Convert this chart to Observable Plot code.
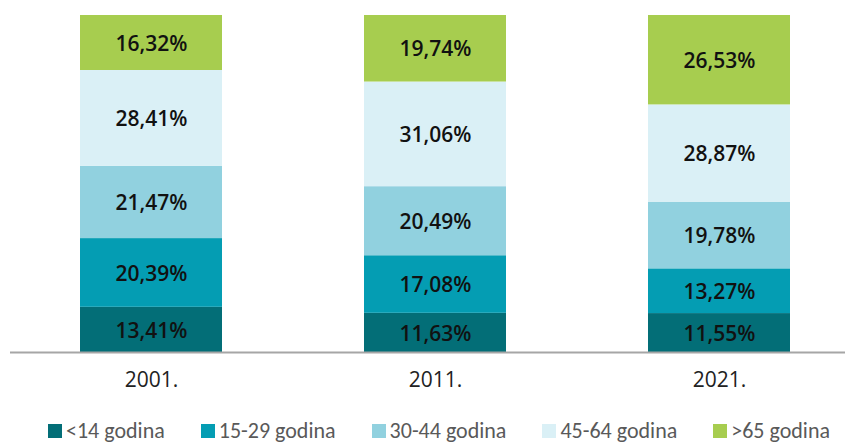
<!DOCTYPE html>
<html>
<head>
<meta charset="utf-8">
<script src="https://cdn.jsdelivr.net/npm/d3@7"></script>
<script src="https://cdn.jsdelivr.net/npm/@observablehq/plot@0.6"></script>
<style>
  html, body { margin: 0; padding: 0; background: #fff; }
  #chart { width: 845px; height: 443px; position: relative; overflow: hidden; }
  #legend { display: flex; justify-content: flex-start; align-items: center; height: 38px;
    padding-left: 48px; padding-top: 13px; box-sizing: border-box;
    font-family: Carlito, Lato, "Liberation Sans", sans-serif; font-size: 22px; color: #595959; }
  .item { display: flex; align-items: center; margin-right: 36px; white-space: nowrap; }
  .sw { width: 14px; height: 14px; margin-right: 4px; display: inline-block; }
</style>
</head>
<body>
<div id="chart"></div>
<script>
const years = ["2001.", "2011.", "2021."];
const groups = ["<14 godina", "15-29 godina", "30-44 godina", "45-64 godina", ">65 godina"];
const v2001 = [13.41, 20.39, 21.47, 28.41, 16.32];
const v2011 = [11.63, 17.08, 20.49, 31.06, 19.74];
const v2021 = [11.55, 13.27, 19.78, 28.87, 26.53];
const colors = ["#036e77", "#049db3", "#91d1df", "#daf0f6", "#a7cd4f"];

const series = [v2001, v2011, v2021];
const data = [];
years.forEach((y, i) => groups.forEach((g, j) => data.push({year: y, group: g, value: series[i][j]})));
const fmt = v => v.toFixed(2).replace(".", ",") + "%";

const plot = Plot.plot({
  width: 845,
  height: 405,
  marginTop: 15,
  marginBottom: 53,
  marginLeft: 10,
  marginRight: 0,
  style: {fontFamily: "'Open Sans', 'Noto Sans', sans-serif", fontSize: "21px", background: "#fff"},
  x: {domain: years, paddingInner: 0.5, paddingOuter: 0.22, align: 0.56, label: null},
  y: {domain: [0, 100], axis: null},
  color: {domain: groups, range: colors},
  marks: [
    Plot.barY(data, Plot.stackY({x: "year", y: "value", fill: "group", order: groups})),
    Plot.text(data, Plot.stackY({x: "year", y: "value", z: "group", order: groups,
      text: d => fmt(d.value), fill: "#111", fontWeight: 600, fontSize: 21,
      dy: 1, style: "letter-spacing:0.5px"})),
    Plot.ruleY([0], {stroke: "#a6a6a6", strokeWidth: 2}),
    Plot.axisX({tickSize: 0, tickPadding: 20, fontSize: 21, fill: "#222", label: null})
  ]
});
document.getElementById("chart").appendChild(plot);

const legend = document.createElement("div");
legend.id = "legend";
groups.forEach((g, j) => {
  const it = document.createElement("div");
  it.className = "item";
  const sw = document.createElement("span");
  sw.className = "sw";
  sw.style.background = colors[j];
  const t = document.createElement("span");
  t.textContent = g;
  it.appendChild(sw); it.appendChild(t);
  legend.appendChild(it);
});
document.getElementById("chart").appendChild(legend);
</script>
</body>
</html>
